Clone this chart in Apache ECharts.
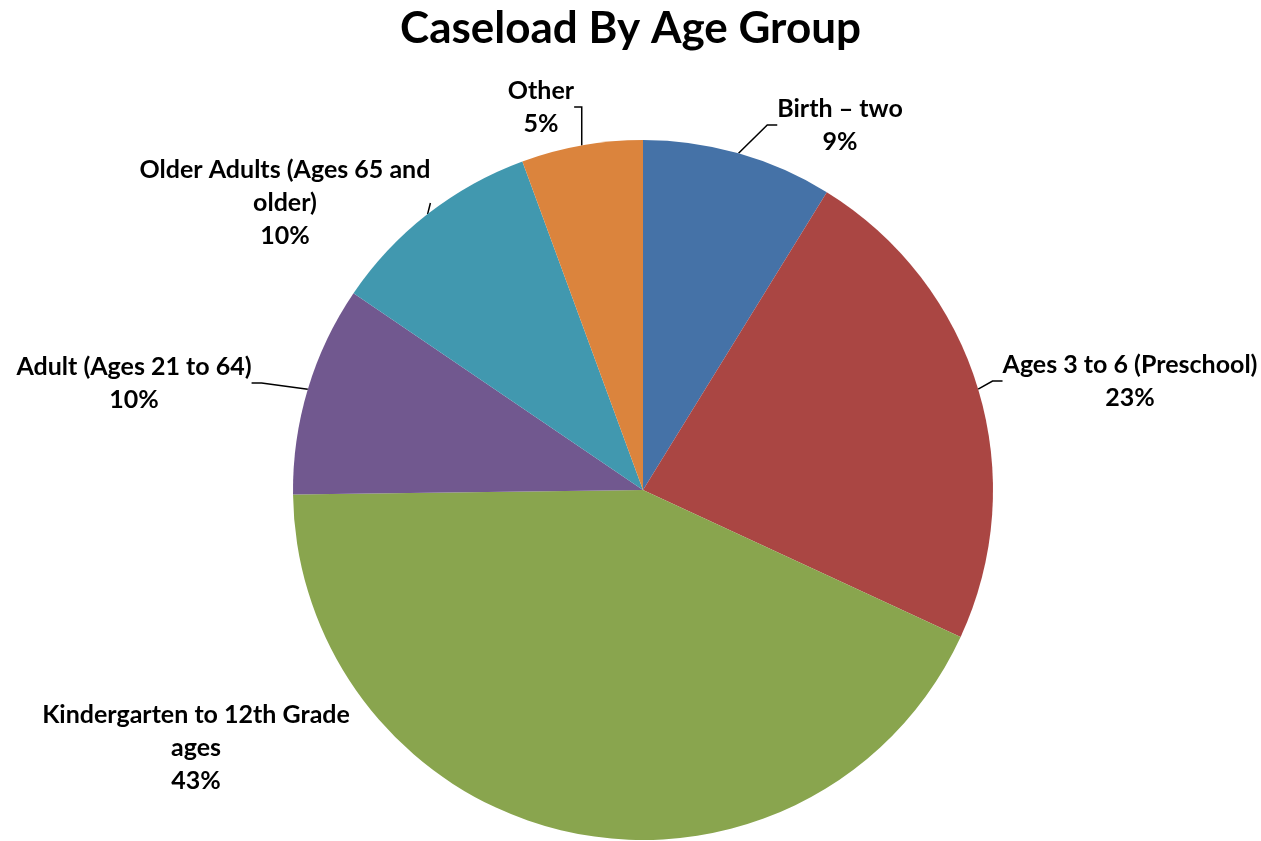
<!DOCTYPE html>
<html>
<head>
<meta charset="utf-8">
<script src="https://cdn.jsdelivr.net/npm/echarts@6/dist/echarts.min.js"></script>
<style>
  html, body { margin: 0; padding: 0; background: #fff; }
  #pie { width: 1261px; height: 841px; }
</style>
</head>
<body>
<div id="pie"></div>
<script>
// slices, clockwise from 12 o'clock
const categories = [
  'Birth \u2013 two',
  'Ages 3 to 6 (Preschool)',
  'Kindergarten to 12th Grade\nages',
  'Adult (Ages 21 to 64)',
  'Older Adults (Ages 65 and\nolder)',
  'Other'
]
const values = [8.8, 23.1, 42.9, 9.7, 9.9, 5.6]
const colors = ['#4572A7', '#AA4643', '#89A54E', '#71588F', '#4198AF', '#DB843D']
// where each label block sits (centre of text)
const labelPos = [
  [840, 125], [1130, 381], [196, 748], [134, 383], [285, 203], [541, 107]
]
const hasLeader = [true, true, false, true, true, true]

const font = 'Lato, "Open Sans", sans-serif'
const chart = echarts.init(document.getElementById('pie'))
const option = {
  backgroundColor: '#fff',
  animation: false,
  title: {
    text: 'Caseload By Age Group',
    left: 'center',
    top: 2,
    textStyle: { fontFamily: font, fontSize: 44, fontWeight: 'bold', color: '#000' }
  },
  series: [{
    type: 'pie',
    center: [643, 490],
    radius: 350,
    startAngle: 90,
    clockwise: true,
    percentPrecision: 0,
    avoidLabelOverlap: false,
    data: categories.map((c, i) => ({
      name: c,
      value: values[i],
      itemStyle: { color: colors[i] },
      labelLine: { show: hasLeader[i] }
    })),
    itemStyle: { borderWidth: 0 },
    label: {
      show: true,
      formatter: '{b}\n{d}%',
      fontFamily: font,
      fontSize: 25,
      fontWeight: 'bold',
      lineHeight: 33,
      color: '#000',
      align: 'center'
    },
    labelLine: {
      show: true,
      length: 10,
      length2: 10,
      lineStyle: { color: '#000', width: 1.5 }
    },
    labelLayout: function (p) {
      const pos = labelPos[p.dataIndex]
      return { x: pos[0], y: pos[1], align: 'center', verticalAlign: 'middle' }
    },
    emphasis: { disabled: true }
  }]
}
chart.setOption(option)
</script>
</body>
</html>
